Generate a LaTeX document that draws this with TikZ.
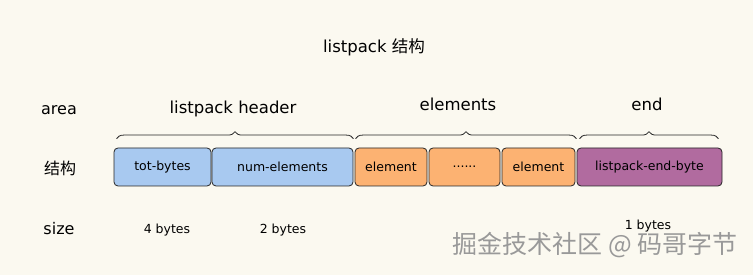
\documentclass[tikz,border=0pt]{standalone}
\usepackage{fontspec}
\setmainfont{DejaVu Sans}
\newfontfamily\cjk{Noto Sans CJK SC}
\usetikzlibrary{calc,decorations.pathreplacing}

\definecolor{paper}{HTML}{FBF9F0}
\definecolor{hdrblue}{HTML}{A8C9F0}
\definecolor{elemorange}{HTML}{FCB272}
\definecolor{endpurple}{HTML}{B16B9F}

\begin{document}
\begin{tikzpicture}[x=1pt, y=-1pt, line cap=round, line join=round]
  \tikzset{
    cell/.style={draw=black!85, line width=0.8pt, rounded corners=4pt,
      minimum height=38pt, inner sep=0pt,
      font=\fontsize{12.5pt}{14pt}\selectfont},
    rowlabel/.style={font=\fontsize{16pt}{18pt}\selectfont},
    arealabel/.style={font=\fontsize{16.5pt}{18pt}\selectfont},
    sizelabel/.style={font=\fontsize{12.5pt}{14pt}\selectfont},
    brace/.style={draw=black!85, line width=0.8pt,
      decorate, decoration={brace, amplitude=7pt}}
  }

  % Background and frame
  \fill[paper] (0,0) rectangle (753,275);
  \useasboundingbox (0,0) rectangle (753,275);

  % Title
  \node[font=\fontsize{16.5pt}{18pt}\selectfont] (title) at (374,47) {listpack {\cjk 结构}};

  % Row labels
  \node[rowlabel] (area) at (59,110) {area};
  \node[rowlabel] (struct) at (60,168) {\cjk 结构};
  \node[rowlabel] (size) at (59,229) {size};

  % Header cells
  \node[cell, fill=hdrblue, minimum width=97pt] (tot) at (162.5,167) {tot-bytes};
  \node[cell, fill=hdrblue, minimum width=141pt] (num) at (282.5,167) {num-elements};

  % Element cells
  \node[cell, fill=elemorange, minimum width=72pt] (el1) at (391,167) {element};
  \node[cell, fill=elemorange, minimum width=71pt] (dots) at (464.5,167) {......};
  \node[cell, fill=elemorange, minimum width=73pt] (el2) at (538.5,167) {element};

  % End cell
  \node[cell, fill=endpurple, minimum width=145pt] (lpend) at (649.5,167) {listpack-end-byte};

  % Braces over the areas
  \draw[brace] ($(tot.north west)+(3,-9)$) -- ($(num.north east)+(0,-9)$);
  \draw[brace] ($(el1.north west)+(1,-9)$) -- ($(el2.north east)+(1,-9)$);
  \draw[brace] ($(lpend.north west)+(3,-9)$) -- ($(lpend.north east)+(-4,-9)$);

  % Area names
  \node[arealabel] (hdrname) at (233,109) {listpack header};
  \node[arealabel] (elname) at (458,104) {elements};
  \node[arealabel] (endname) at (647,104) {end};

  % Sizes
  \node[sizelabel] (totsize) at (167,230) {4 bytes};
  \node[sizelabel] (numsize) at (283,230) {2 bytes};
  \node[sizelabel] (endsize) at (648,226) {1 bytes};

  % Watermark
  \node[font=\cjk\fontsize{25pt}{27pt}\selectfont, text=black!40, anchor=east] (mark)
    at (741,245) {掘金技术社区 @ 码哥字节};

\end{tikzpicture}
\end{document}
